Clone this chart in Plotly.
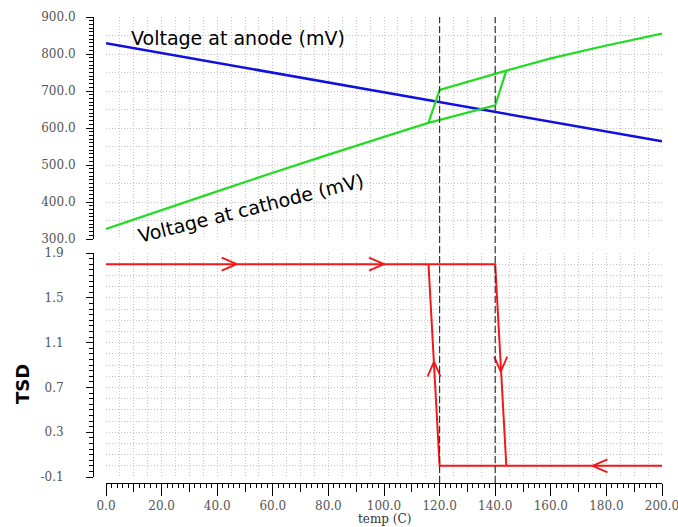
import plotly.graph_objects as go

# ---------------- data ----------------
temp_anode = [0, 50, 100, 150, 200]
v_anode = [829, 763, 697, 631, 564]

# cathode voltage: lower branch (TSD high) and upper branch (TSD low)
temp_cath_low = [0, 20, 40, 60, 80, 100, 116, 140]
v_cath_low = [327, 378, 429, 479, 528, 576, 614, 661]
temp_cath_high = [120, 144, 160, 180, 200]
v_cath_high = [703, 755, 788, 823, 855]

# TSD output, heating then cooling
temp_tsd_heat = [0, 140, 144, 200]
tsd_heat = [1.8, 1.8, 0.0, 0.0]
temp_tsd_cool = [200, 120, 116, 0]
tsd_cool = [0.0, 0.0, 1.8, 1.8]

# direction arrows on the TSD loop
arrow_T = [47, 100, 175, 118, 142]
arrow_TSD = [1.8, 1.8, 0.0, 0.93, 0.84]
arrow_dir = ["right", "right", "left", "up", "down"]

# threshold markers
thresholds = [120, 140]

x_ticks = [0, 20, 40, 60, 80, 100, 120, 140, 160, 180, 200]
x_mid_ticks = [10, 30, 50, 70, 90, 110, 130, 150, 170, 190]
v_ticks = [300, 400, 500, 600, 700, 800, 900]
tsd_ticks = [-0.1, 0.3, 0.7, 1.1, 1.5, 1.9]

# ---------------- layout geometry ----------------
W, H = 678, 527
ML, MR, MT, MB = 93, 16, 17, 44
PW, PH = W - ML - MR, H - MT - MB
XDOM = [13 / PW, 1.0]
TOP_DOM = [(483 - 239) / PH, 1.0]
BOT_DOM = [(483 - 477) / PH, (483 - 253) / PH]
XR = [0, 200]
VR = [300, 900]
TR = [-0.1, 1.9]

sx = PW * (XDOM[1] - XDOM[0]) / (XR[1] - XR[0])
sy = PH * (BOT_DOM[1] - BOT_DOM[0]) / (TR[1] - TR[0])

BLUE = "#1010e0"
GREEN = "#22dc22"
RED = "#f01818"
GRID = "#c4c4c4"
TICKFONT = dict(family="DejaVu Serif", size=12, color="#555555")

fig = go.Figure()

# dummy traces to register the grid (base) subplots
fig.add_trace(go.Scatter(x=[], y=[], xaxis="x", yaxis="y", showlegend=False))
fig.add_trace(go.Scatter(x=[], y=[], xaxis="x", yaxis="y2", showlegend=False))
fig.add_trace(go.Scatter(x=[], y=[], xaxis="x3", yaxis="y3", showlegend=False))

# anode voltage
fig.add_trace(go.Scatter(x=temp_anode, y=v_anode, mode="lines",
                         line=dict(color=BLUE, width=2.5),
                         xaxis="x2", yaxis="y4", showlegend=False))

# cathode voltage loop
gx = temp_cath_low + temp_cath_high[1:] + temp_cath_high[::-1] + temp_cath_low[:-1][::-1]
gy = v_cath_low + v_cath_high[1:] + v_cath_high[::-1] + v_cath_low[:-1][::-1]
fig.add_trace(go.Scatter(x=gx, y=gy, mode="lines",
                         line=dict(color=GREEN, width=2.2),
                         xaxis="x2", yaxis="y4", showlegend=False))

# TSD loop
fig.add_trace(go.Scatter(x=temp_tsd_heat + temp_tsd_cool, y=tsd_heat + tsd_cool,
                         mode="lines", line=dict(color=RED, width=2),
                         xaxis="x2", yaxis="y3", showlegend=False))

# chevrons
L, Wd = 15, 6.5
cx, cy = [], []
for t, v, d in zip(arrow_T, arrow_TSD, arrow_dir):
    if d == "right":
        a = [(-L / sx, Wd / sy), (-L / sx, -Wd / sy)]
    elif d == "left":
        a = [(L / sx, Wd / sy), (L / sx, -Wd / sy)]
    elif d == "up":
        a = [(-Wd / sx, -L / sy), (Wd / sx, -L / sy)]
    else:
        a = [(-Wd / sx, L / sy), (Wd / sx, L / sy)]
    cx += [t + a[0][0], t, t + a[1][0], None]
    cy += [v + a[0][1], v, v + a[1][1], None]
fig.add_trace(go.Scatter(x=cx, y=cy, mode="lines", line=dict(color=RED, width=1.8),
                         xaxis="x2", yaxis="y3", showlegend=False))

grid_common = dict(showgrid=True, gridcolor=GRID, griddash="1px,2px", gridwidth=1,
                   showticklabels=False, ticks="", showline=False, zeroline=False)

fig.update_layout(
    width=W, height=H,
    margin=dict(l=ML, r=MR, t=MT, b=MB, pad=0, autoexpand=False),
    paper_bgcolor="white", plot_bgcolor="white",
    showlegend=False,
    xaxis=dict(domain=XDOM, range=XR, dtick=5, tick0=0, anchor="y", **grid_common),
    yaxis=dict(domain=BOT_DOM, range=TR, dtick=0.1, tick0=-0.1, anchor="x", **grid_common),
    yaxis2=dict(domain=TOP_DOM, range=VR, dtick=50, tick0=300, anchor="x", **grid_common),
    xaxis2=dict(overlaying="x", range=XR, anchor="free", position=0,
                showline=True, linecolor="black", linewidth=1,
                ticks="outside", tickvals=x_ticks, ticktext=[f"{v:.1f}" for v in x_ticks],
                ticklen=12, tickcolor="black", ticklabelstandoff=0,
                ticklabeloverflow="allow",
                tickfont=TICKFONT, showgrid=False, zeroline=False,
                minor=dict(dtick=2, tick0=0, ticks="outside", ticklen=4,
                           tickcolor="black", showgrid=False)),
    xaxis3=dict(overlaying="x", range=XR, anchor="free", position=0,
                ticks="outside", tickvals=x_mid_ticks, ticklen=8, tickcolor="black",
                showticklabels=False, showline=False, showgrid=False, zeroline=False),
    yaxis3=dict(overlaying="y", range=TR, anchor="free", position=0,
                showline=True, linecolor="black", linewidth=1,
                ticks="outside", tickvals=tsd_ticks, ticktext=[f"{v:.1f}" for v in tsd_ticks],
                ticklen=7, tickcolor="black", ticklabeloverflow="allow",
                tickfont=TICKFONT, ticklabelstandoff=20,
                showgrid=False, zeroline=False,
                minor=dict(dtick=0.05, tick0=-0.1, ticks="outside", ticklen=4,
                           tickcolor="black", showgrid=False)),
    yaxis4=dict(overlaying="y2", range=VR, anchor="free", position=0,
                showline=True, linecolor="black", linewidth=1,
                ticks="outside", tickvals=v_ticks, ticktext=[f"{v:.1f}" for v in v_ticks],
                ticklen=7, tickcolor="black", ticklabeloverflow="allow",
                tickfont=TICKFONT, ticklabelstandoff=8,
                showgrid=False, zeroline=False,
                minor=dict(dtick=10, tick0=300, ticks="outside", ticklen=4,
                           tickcolor="black", showgrid=False)),
)

for t in thresholds:
    fig.add_shape(type="line", xref="x2", yref="paper", x0=t, x1=t, y0=0, y1=1,
                  line=dict(color="#333333", width=1.2, dash="7px,3px"), layer="above")

fig.add_annotation(text="Voltage at anode (mV)", xref="x2", yref="y4", x=47.5, y=843,
                   xanchor="center", yanchor="middle",
                   showarrow=False, font=dict(family="DejaVu Sans", size=19, color="black"))
fig.add_annotation(text="Voltage at cathode (mV)", xref="x2", yref="y4", x=52, y=384,
                   xanchor="center", yanchor="middle",
                   textangle=-14, showarrow=False,
                   font=dict(family="DejaVu Sans", size=19, color="black"))
fig.add_annotation(text="<b>TSD</b>", xref="paper", yref="paper",
                   x=(22 - ML) / PW, y=(483 - 384) / PH, textangle=-90, showarrow=False,
                   xanchor="center", yanchor="middle",
                   font=dict(family="DejaVu Sans", size=18, color="black"))
fig.add_annotation(text="temp (C)", xref="paper", yref="paper",
                   x=(384 - ML) / PW, y=(483 - 519) / PH, showarrow=False,
                   xanchor="center", yanchor="middle",
                   font=dict(family="DejaVu Serif", size=12, color="#333333"))

fig.write_html("out.html", config={"displayModeBar": False},
               post_script="document.body.style.margin='0';document.body.style.padding='0';")
